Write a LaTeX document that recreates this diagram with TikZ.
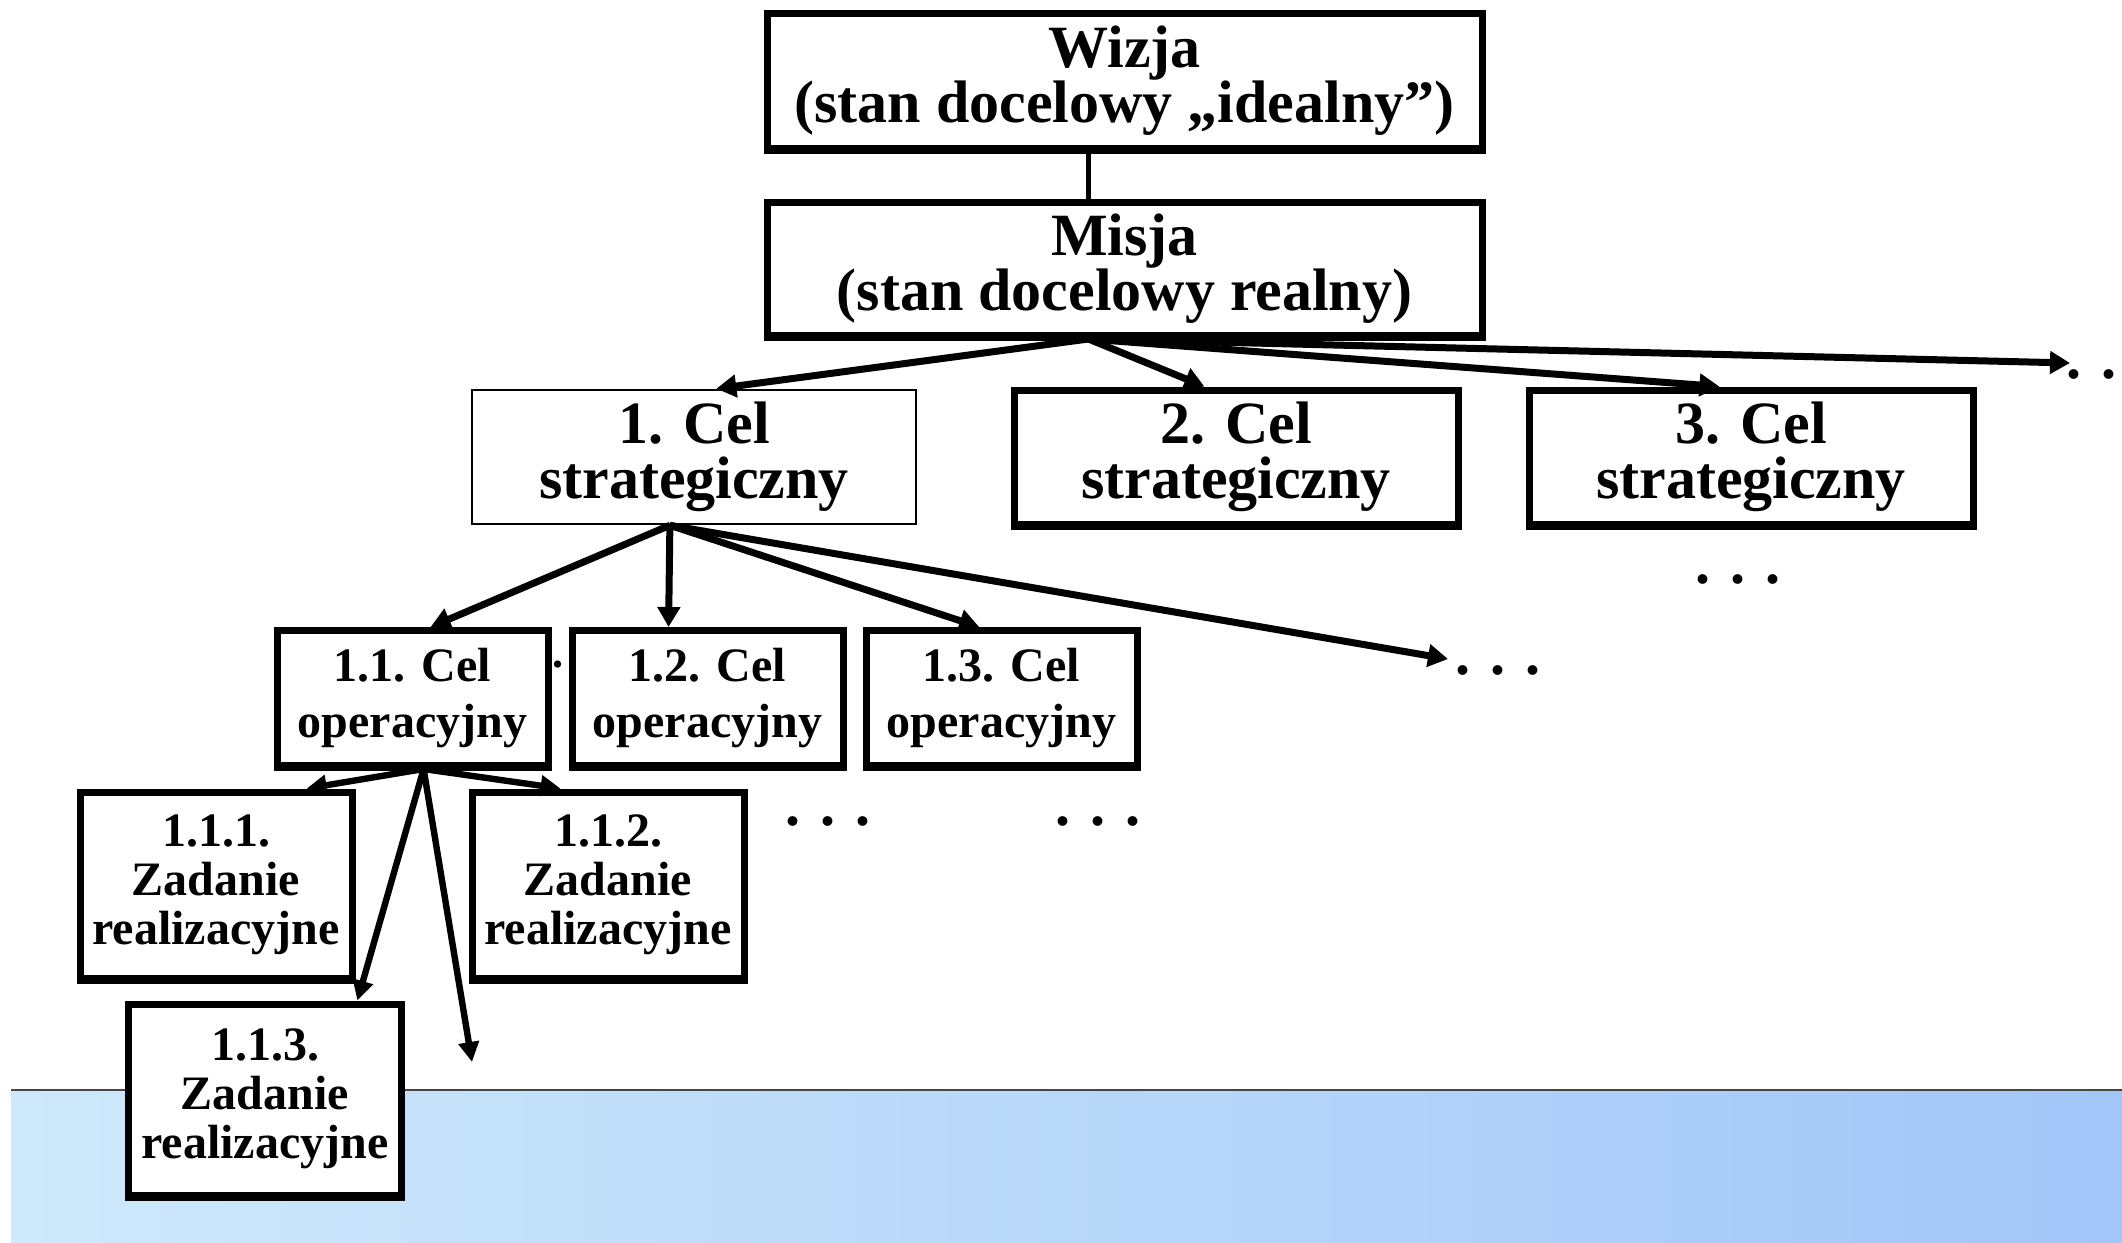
\documentclass[tikz,border=0pt]{standalone}
\usepackage{fontspec}
\setmainfont{Liberation Serif}
\usetikzlibrary{arrows.meta,calc}
\definecolor{bandL}{RGB}{206,233,251}
\definecolor{bandR}{RGB}{162,198,248}
\definecolor{bandline}{RGB}{70,70,70}
\begin{document}
\begin{tikzpicture}[x=0.5pt,y=-0.5pt,
  boxbase/.style={draw, fill=white, line width=3.5pt, inner sep=0pt, align=center},
  topbox/.style={boxbase, minimum width=357.5pt, font=\bfseries\fontsize{30}{27.5}\selectfont},
  stratbox/.style={boxbase, minimum width=222pt, minimum height=67pt, font=\bfseries\fontsize{30}{27.5}\selectfont},
  opbox/.style={boxbase, minimum width=135.5pt, minimum height=67.5pt, font=\bfseries\fontsize{24}{28.4}\selectfont},
  taskbox/.style={boxbase, minimum width=136pt, minimum height=93pt, font=\bfseries\fontsize{24}{24.4}\selectfont},
  dots/.style={inner sep=0pt, anchor=base west, font=\bfseries\fontsize{30}{30}\selectfont},
  conn/.style={line width=3.5pt, -{Triangle[length=10pt,width=11pt]}},
  connlow/.style={line width=3.2pt, -{Triangle[length=10pt,width=10pt]}},
  plain/.style={line width=2.5pt}
]
\useasboundingbox (0,0) rectangle (2122,1243);
% background band
\fill[left color=bandL, right color=bandR] (11,1090) rectangle (2122,1243);
\draw[bandline, line width=1.2pt] (11,1090) -- (2122,1090);

% boxes
\node[topbox, minimum height=67.5pt] (wizja) at (1124.5,81) {Wizja\\(stan docelowy „idealny”)};
\node[topbox, minimum height=66.5pt] (misja) at (1124.5,269) {Misja\\(stan docelowy realny)};

\node[stratbox, line width=1.3pt] (c1) at (694,457) {1. Cel\\strategiczny};
\node[stratbox] (c2) at (1236,457) {2. Cel\\strategiczny};
\node[stratbox] (c3) at (1751,457) {3. Cel\\strategiczny};

\node[opbox] (o1) at (412.5,698) {1.1. Cel\\operacyjny};
\node[opbox] (o2) at (707.5,698) {1.2. Cel\\operacyjny};
\node[opbox] (o3) at (1001.5,698) {1.3. Cel\\operacyjny};

\node[taskbox] (z1) at (216,885) {1.1.1.\\Zadanie\\realizacyjne};
\node[taskbox] (z2) at (608,885) {1.1.2.\\Zadanie\\realizacyjne};
\node[taskbox, minimum width=136.5pt, minimum height=95.5pt] (z3) at (265,1099.5)
  {\raisebox{6pt}{\begin{tabular}{@{}c@{}}1.1.3.\\Zadanie\\realizacyjne\end{tabular}}};

% thicker bottom edges
\foreach \n in {wizja,misja,c2,c3,o1,o2,o3,z1,z2,z3}
  \draw[line width=2pt] (\n.south west) -- (\n.south east);

% dots
\node[dots] (dR) at (2066,378) {. .};
\node[dots] (d3) at (1695,583) {. . .};
\node[dots] (dO) at (1455,674) {. . .};
\node[dots] (dA) at (785,825) {. . .};
\node[dots] (dB) at (1055,825) {. . .};
\node[inner sep=0pt, anchor=base west, font=\bfseries\fontsize{22}{22}\selectfont] (dS) at (552,667) {.};

% connectors
\draw[plain] ($(wizja.south west)!0.45!(wizja.south east)$) -- ($(misja.north west)!0.45!(misja.north east)$);

\coordinate (mo) at ($(misja.south west)!0.45!(misja.south east)$);
\coordinate (moreS) at (2070,363);
\draw[conn] (mo) -- ($(c1.north west)!0.55!(c1.north east)$);
\draw[conn] (mo) -- ($(c2.north west)!0.43!(c2.north east)$);
\draw[conn] (mo) -- ($(c3.north west)!0.43!(c3.north east)$);
\draw[conn] (mo) -- (moreS);

\coordinate (co) at ($(c1.south west)!0.446!(c1.south east)$);
\coordinate (moreO) at (1448,659);
\draw[conn] (co) -- ($(o1.north west)!0.565!(o1.north east)$);
\draw[conn] (co) -- ($(o2.north west)!0.36!(o2.north east)$);
\draw[conn] (co) -- ($(o3.north west)!0.42!(o3.north east)$);
\draw[conn] (co) -- (moreO);

\coordinate (oo) at ($(o1.south west)!0.54!(o1.south east)$);
\coordinate (moreZ) at (472,1062);
\draw[connlow] (oo) -- ($(z1.north west)!0.825!(z1.north east)$);
\draw[connlow] (oo) -- ($(z2.north west)!0.33!(z2.north east)$);
\draw[connlow] (oo) -- ($(z3.north west)!0.83!(z3.north east)$);
\draw[connlow] (oo) -- (moreZ);
\end{tikzpicture}
\end{document}
